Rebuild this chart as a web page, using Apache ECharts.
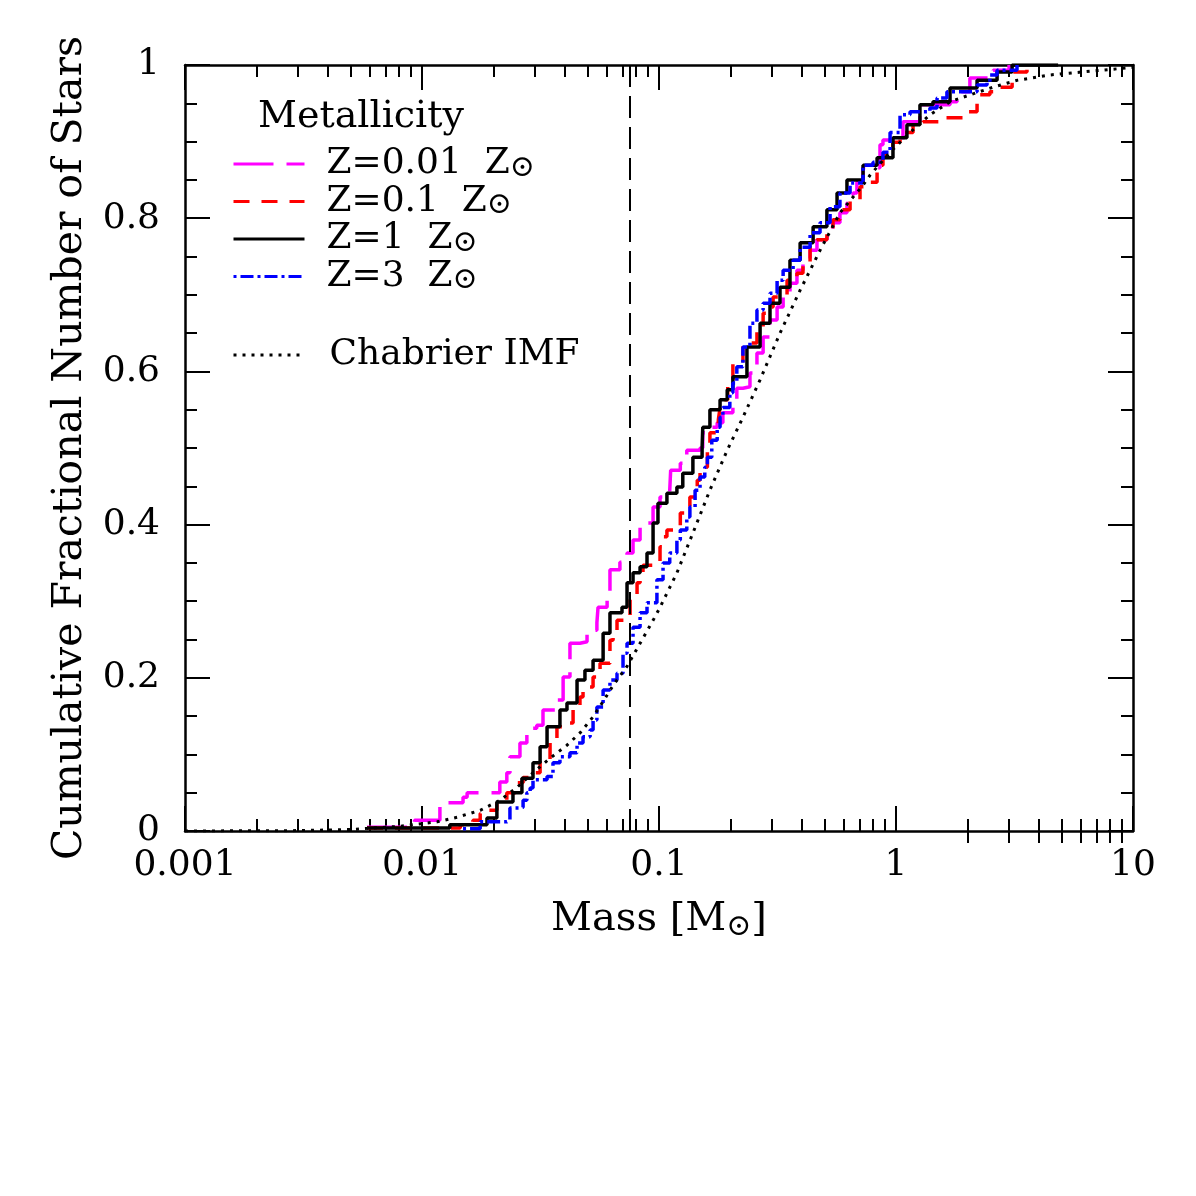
<!DOCTYPE html>
<html><head><meta charset="utf-8">
<script src="https://cdn.jsdelivr.net/npm/echarts@6/dist/echarts.min.js"></script>
<style>html,body{margin:0;padding:0;background:#fff;}#c{width:1196px;height:1196px;}</style>
</head><body><div id="c"></div>
<script>
const FONT = 'DejaVu Serif';
const xMin = 0.001, xMax = 10;
const yTicks = [0, 0.2, 0.4, 0.6, 0.8, 1];
const xMinorTicksTopDecade = [2, 3, 4, 5, 6, 7, 8, 9];
const hydrogenBurningLimit = 0.075;
const seriesNames = ['Z=0.01', 'Z=0.1', 'Z=1', 'Z=3', 'Chabrier IMF'];

// [mass (Msun), cumulative fraction]
const z001 = [[0.00586,0.005],[0.0093,0.014],[0.0119,0.037],[0.0149,0.044],[0.0155,0.05],[0.0213,0.064],[0.0228,0.076],[0.0235,0.097],[0.0259,0.115],[0.0277,0.134],[0.0305,0.138],[0.0324,0.158],[0.0371,0.171],[0.0394,0.201],[0.0421,0.245],[0.0464,0.247],[0.0497,0.262],[0.0547,0.272],[0.0553,0.292],[0.0604,0.311],[0.0621,0.341],[0.0684,0.351],[0.0733,0.363],[0.0777,0.380],[0.0832,0.397],[0.0890,0.402],[0.0944,0.423],[0.101,0.436],[0.111,0.445],[0.112,0.471],[0.123,0.480],[0.131,0.497],[0.149,0.500],[0.153,0.520],[0.164,0.527],[0.176,0.533],[0.186,0.546],[0.205,0.563],[0.213,0.578],[0.226,0.580],[0.242,0.598],[0.259,0.624],[0.275,0.645],[0.294,0.667],[0.315,0.684],[0.334,0.697],[0.357,0.715],[0.382,0.732],[0.405,0.745],[0.434,0.758],[0.464,0.772],[0.511,0.775],[0.542,0.794],[0.580,0.807],[0.621,0.820],[0.659,0.833],[0.684,0.847],[0.726,0.866],[0.856,0.896],[0.881,0.902],[1.07,0.926],[1.26,0.948],[1.69,0.952],[1.81,0.965],[2.05,0.983],[2.57,0.993],[3.0,1.0]];
const z01 = [[0.00586,0.004],[0.0145,0.008],[0.0164,0.014],[0.0176,0.023],[0.0188,0.027],[0.0207,0.037],[0.0228,0.050],[0.0252,0.063],[0.0267,0.070],[0.0294,0.076],[0.0315,0.093],[0.0347,0.119],[0.0371,0.136],[0.0394,0.141],[0.0434,0.162],[0.0464,0.175],[0.0478,0.188],[0.0527,0.201],[0.0564,0.219],[0.0621,0.249],[0.064,0.262],[0.0665,0.275],[0.0755,0.302],[0.0808,0.324],[0.0832,0.337],[0.0856,0.347],[0.101,0.371],[0.104,0.384],[0.108,0.393],[0.115,0.397],[0.123,0.415],[0.135,0.436],[0.145,0.458],[0.149,0.475],[0.160,0.501],[0.164,0.520],[0.178,0.537],[0.181,0.553],[0.186,0.563],[0.195,0.589],[0.205,0.611],[0.226,0.637],[0.259,0.654],[0.275,0.676],[0.294,0.684],[0.303,0.697],[0.347,0.719],[0.382,0.728],[0.405,0.742],[0.434,0.762],[0.464,0.772],[0.511,0.785],[0.542,0.798],[0.580,0.811],[0.640,0.824],[0.705,0.841],[0.755,0.847],[0.832,0.869],[0.881,0.882],[0.971,0.899],[1.04,0.912],[1.18,0.922],[1.30,0.926],[1.53,0.931],[1.92,0.932],[1.995,0.939],[2.198,0.952],[2.26,0.961],[2.49,0.965],[2.67,0.971],[3.09,0.978],[3.18,0.991],[3.57,0.997],[3.67,1.0]];
const z1 = [[0.00586,0.004],[0.0131,0.008],[0.0188,0.017],[0.0207,0.038],[0.0242,0.050],[0.0264,0.069],[0.0294,0.089],[0.0315,0.110],[0.0337,0.136],[0.0382,0.158],[0.0409,0.167],[0.0451,0.197],[0.0487,0.210],[0.0527,0.223],[0.0581,0.258],[0.0621,0.285],[0.0698,0.292],[0.0733,0.324],[0.0777,0.337],[0.0832,0.345],[0.0890,0.363],[0.0944,0.402],[0.099,0.428],[0.108,0.441],[0.119,0.449],[0.126,0.467],[0.139,0.488],[0.152,0.501],[0.153,0.527],[0.164,0.550],[0.181,0.563],[0.194,0.576],[0.205,0.593],[0.235,0.632],[0.267,0.663],[0.294,0.689],[0.324,0.710],[0.357,0.745],[0.394,0.768],[0.447,0.789],[0.511,0.811],[0.564,0.833],[0.621,0.850],[0.726,0.869],[0.832,0.879],[0.971,0.905],[1.112,0.922],[1.262,0.948],[1.432,0.952],[1.69,0.970],[2.198,0.980],[2.67,0.991],[3.09,1.0],[4.83,1.0]];
const z3 = [[0.0149,0.003],[0.0176,0.012],[0.0228,0.014],[0.0235,0.030],[0.0259,0.031],[0.0267,0.040],[0.0277,0.050],[0.0286,0.056],[0.0294,0.067],[0.0337,0.071],[0.0357,0.089],[0.0382,0.097],[0.0421,0.102],[0.0451,0.115],[0.0478,0.123],[0.0512,0.132],[0.0527,0.145],[0.0547,0.162],[0.0581,0.184],[0.0621,0.197],[0.0665,0.206],[0.0705,0.232],[0.0733,0.245],[0.0777,0.266],[0.0832,0.285],[0.089,0.298],[0.098,0.328],[0.104,0.350],[0.111,0.363],[0.119,0.380],[0.123,0.393],[0.131,0.410],[0.135,0.423],[0.142,0.445],[0.149,0.462],[0.156,0.475],[0.160,0.488],[0.167,0.510],[0.176,0.527],[0.181,0.540],[0.186,0.553],[0.199,0.572],[0.205,0.585],[0.213,0.606],[0.226,0.632],[0.242,0.663],[0.259,0.680],[0.275,0.689],[0.294,0.702],[0.315,0.719],[0.334,0.732],[0.368,0.745],[0.394,0.762],[0.434,0.781],[0.478,0.794],[0.527,0.815],[0.580,0.833],[0.640,0.846],[0.726,0.869],[0.800,0.873],[0.881,0.886],[0.944,0.912],[1.04,0.935],[1.146,0.939],[1.39,0.944],[1.49,0.957],[1.64,0.965],[2.198,0.974],[2.421,0.978],[2.49,0.987],[2.67,0.993],[3.24,1.0]];
const chabrier = [[0.001,0.0],[0.003,0.0005],[0.005,0.002],[0.008,0.006],[0.0116,0.012],[0.0141,0.018],[0.0176,0.027],[0.0213,0.040],[0.0252,0.057],[0.0294,0.076],[0.0347,0.095],[0.0409,0.112],[0.0464,0.128],[0.0527,0.149],[0.0581,0.169],[0.064,0.190],[0.0733,0.215],[0.0832,0.245],[0.0944,0.275],[0.101,0.292],[0.119,0.337],[0.139,0.389],[0.164,0.445],[0.194,0.497],[0.226,0.540],[0.267,0.589],[0.324,0.650],[0.394,0.706],[0.478,0.758],[0.580,0.807],[0.640,0.823],[0.726,0.843],[0.776,0.856],[0.944,0.886],[1.146,0.912],[1.39,0.935],[1.69,0.952],[2.05,0.961],[2.57,0.971],[3.24,0.980],[4.47,0.987],[6.15,0.991],[8.56,0.995],[10,0.997]];

const BLACK = '#000';
const tickStyle = {color: BLACK, width: 2};

function logXAxis(pos, withLabels) {
  return {
    type: 'log', logBase: 10, min: xMin, max: xMax, position: pos, gridIndex: 0,
    axisLine: {show: true, onZero: false, lineStyle: {color: BLACK, width: 2.5}},
    axisTick: {show: true, inside: true, length: 25, lineStyle: tickStyle},
    minorTick: {show: true, splitNumber: 9, length: 12, lineStyle: tickStyle},
    splitLine: {show: false}, minorSplitLine: {show: false},
    axisLabel: {show: withLabels, color: BLACK, fontFamily: FONT, fontSize: 36, margin: 17,
      showMinLabel: true, showMaxLabel: true,
      formatter: v => String(parseFloat(Number(v).toPrecision(6)))},
    name: withLabels ? '{t|Mass [M}{s|⊙}{t|]}' : '',
    nameLocation: 'middle', nameGap: 67,
    nameTextStyle: {color: BLACK, rich: {
      t: {fontFamily: FONT, fontSize: 40, lineHeight: 44, color: BLACK},
      s: {fontFamily: FONT, fontSize: 30, lineHeight: 4, verticalAlign: 'bottom', color: BLACK}
    }}
  };
}
function minorHelperAxis(pos) {
  // extra minor ticks for the 1-10 decade, placed on a log10 helper axis
  return {
    type: 'value', min: Math.log10(xMin), max: Math.log10(xMax), position: pos, gridIndex: 0,
    axisLine: {show: false}, splitLine: {show: false}, axisLabel: {show: false},
    axisTick: {show: true, inside: true, length: 12, lineStyle: tickStyle,
      customValues: xMinorTicksTopDecade.map(v => Math.log10(v))}
  };
}
function yAxisCfg(pos, withLabels) {
  return {
    type: 'value', min: yTicks[0], max: yTicks[yTicks.length - 1], interval: 0.2, position: pos, gridIndex: 0,
    axisLine: {show: true, onZero: false, lineStyle: {color: BLACK, width: 2.5}},
    axisTick: {show: true, inside: true, length: 25, lineStyle: tickStyle},
    minorTick: {show: true, splitNumber: 4, length: 12, lineStyle: tickStyle},
    splitLine: {show: false},
    axisLabel: {show: withLabels, color: BLACK, fontFamily: FONT, fontSize: 36, margin: 25,
      showMinLabel: true, showMaxLabel: true,
      formatter: v => String(parseFloat(Number(v).toFixed(2)))},
    name: withLabels ? 'Cumulative Fractional Number of Stars' : '',
    nameLocation: 'middle', nameRotate: 90, nameGap: 94,
    nameTextStyle: {color: BLACK, fontFamily: FONT, fontSize: 41}
  };
}

const lineBase = (name, data, color, type, width) => ({
  name, type: 'line', data, step: 'end', xAxisIndex: 0, yAxisIndex: 0,
  symbol: 'none', showSymbol: false, silent: true,
  lineStyle: {color, width, type, cap: 'butt'}, itemStyle: {color}
});

const s0 = lineBase(seriesNames[0], z001, '#ff00ff', [40, 13], 3.5);
const s1 = lineBase(seriesNames[1], z01, '#ff0000', [16, 12], 3.5);
const s2 = lineBase(seriesNames[2], z1, '#000000', 'solid', 3.5);
s2.markLine = {symbol: 'none', silent: true, precision: 6, label: {show: false}, animation: false,
  lineStyle: {color: BLACK, type: [22, 9], width: 2},
  data: [{xAxis: hydrogenBurningLimit}]};
const s3 = lineBase(seriesNames[3], z3, '#0000ff', [3, 4, 13, 4], 3.5);
const s4 = lineBase(seriesNames[4], chabrier, '#000000', [3, 6], 3);
s4.step = false;

const legendText = {color: BLACK, rich: {
  t: {fontFamily: FONT, fontSize: 36, lineHeight: 38, padding: [0, 0, 0, 17], color: BLACK},
  u: {fontFamily: FONT, fontSize: 36, lineHeight: 38, padding: [0, 0, 0, 20], color: BLACK},
  s: {fontFamily: FONT, fontSize: 30, lineHeight: 4, verticalAlign: 'bottom', color: BLACK}
}};

const option = {
  animation: false,
  backgroundColor: '#fff',
  grid: {left: 185, right: 63, top: 65, bottom: 365, containLabel: false},
  title: {text: 'Metallicity', left: 253, top: 93,
    textStyle: {fontFamily: FONT, fontSize: 38, fontWeight: 'normal', color: BLACK}},
  legend: [
    {orient: 'vertical', left: 227, top: 141, itemWidth: 71, itemHeight: 14, itemGap: 0.5,
     selectedMode: false, data: seriesNames.slice(0, 4),
     formatter: n => '{t|' + n + '  Z}{s|⊙}', textStyle: legendText,
     lineStyle: {width: 3}, itemStyle: {opacity: 0}},
    {orient: 'vertical', left: 227, top: 332, itemWidth: 71, itemHeight: 14, itemGap: 0,
     selectedMode: false, data: [seriesNames[4]],
     formatter: n => '{u|' + n + '}', textStyle: legendText,
     lineStyle: {width: 3}, itemStyle: {opacity: 0}}
  ],
  xAxis: [logXAxis('bottom', true), logXAxis('top', false), minorHelperAxis('bottom'), minorHelperAxis('top')],
  yAxis: [yAxisCfg('left', true), yAxisCfg('right', false)],
  series: [s0, s1, s2, s3, s4]
};
const chart = echarts.init(document.getElementById('c'), null, {renderer: 'canvas'});
chart.setOption(option);
</script></body></html>
